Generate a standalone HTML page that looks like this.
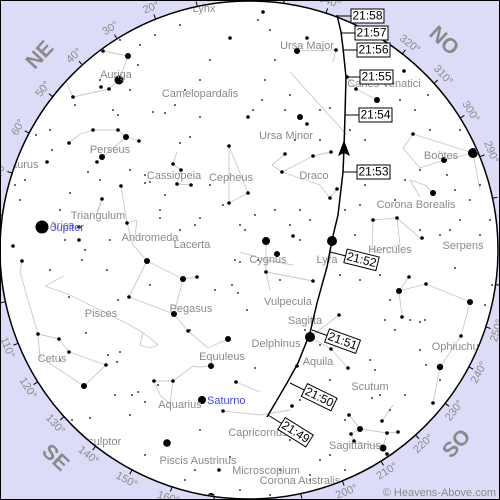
<!DOCTYPE html>
<html><head><meta charset="utf-8"><style>
html,body{margin:0;padding:0;background:#fff}
svg{display:block}
text{font-family:"Liberation Sans",sans-serif}
</style></head><body>
<svg id="chart" width="500" height="500" viewBox="0 0 500 500" xmlns="http://www.w3.org/2000/svg">
<defs><clipPath id="sky"><circle cx="249" cy="250" r="248"/></clipPath></defs>
<rect x="0" y="0" width="500" height="500" fill="#dcdcf8"/>
<circle cx="249" cy="250" r="249" fill="#fff" stroke="#000" stroke-width="1.5"/>
<g id="azimuth"></g>
<g clip-path="url(#sky)">
<g id="clines" stroke="#c8c8c8" stroke-width="0.9" fill="none"></g>
<g id="stars" fill="#000"></g>
<g id="labels" fill="#8a8a8a" font-size="11"></g>
</g>
<g id="track"></g>
<text x="496" y="496" text-anchor="end" font-size="11" fill="#8a8a8a">© Heavens-Above.com</text>
<rect x="0.5" y="0.5" width="499" height="499" fill="none" stroke="#000" stroke-width="1"/>
</svg>
<script>
const NS="http://www.w3.org/2000/svg";
const CX=249, CY=250, R=249, ROT=-2;
const azTicks=[10,20,30,40,50,60,70,80,100,110,120,130,140,150,160,170,190,200,210,220,230,240,250,260,280,290,300,310,320,330,340,350];
const azLabels=[20,30,40,50,60,70,110,120,130,140,150,160,200,210,220,230,240,250,290,300,310,320,340];
const compassNames=["NE","SE","SO","NO"];
const compassAz=[45,135,225,315];
const bigX=[42,473,332,310,119,266,202,167,211,440,383,128,297,377,300,126,102,147,183,174,228,211,84,399,470,360,277,444,433];
const bigY=[227,153,241,337,80,241,400,443,497,367,448,56,51,100,117,137,157,261,279,314,339,366,386,291,302,429,254,160,193];
const bigR=[6.5,5,5,5,4.5,4,4,3.8,4,3.2,3.5,3,3,3,3,3,3,3,3,3,3,3,3,3,3,3,3,3,3];
const midX=[103,101,109,73,93,118,139,69,97,47,173,181,177,191,121,229,248,248,229,102,127,79,79,13,230,263,307,336,347,356,404,307,331,313,285,282,330,337,413,397,373,422,293,22,197,129,236,106,69,59,38,223,188,173,154,266,313,339,331,348,297,409,426,402,461,433,349,387,398,382,387,351,354,292,219];
const midY=[51,87,89,97,130,130,141,143,162,162,164,170,184,185,186,146,117,193,203,199,223,227,240,246,38,12,38,50,77,89,71,124,152,156,154,172,198,189,134,218,220,238,236,261,277,297,382,365,352,339,334,411,331,381,381,272,281,315,349,368,366,277,284,317,336,403,415,433,432,421,454,434,441,406,470];
const tinyX=[180,155,140,120,210,200,185,138,100,130,75,113,118,153,165,175,200,190,180,36,50,52,15,25,70,88,100,130,145,150,165,210,223,240,200,195,180,160,145,60,20,65,85,107,110,258,270,275,265,262,253,290,320,330,295,285,320,350,365,384,400,415,428,430,460,455,480,470,447,420,460,450,490,480,395,405,420,440,365,360,345,300,290,310,275,255,245,50,82,118,69,86,117,120,108,115,132,138,145,158,130,145,125,185,195,240,230,200,190,215,232,238,235,247,150,72,90,255,280,340,360,375,380,390,385,395,425,420,420,426,440,405,480,485,410,370,305,320,330,375,380,390,345,330,345,310,320,300,290,280,310,270,216,240,160,355,372,60,25,480,455,492,300,258];
const tinyY=[25,35,45,40,60,80,90,65,80,90,105,110,115,112,113,105,117,137,143,135,130,150,185,180,193,172,180,170,175,182,195,185,205,225,218,225,230,210,183,210,200,240,250,270,240,20,30,60,80,100,110,95,110,108,140,110,140,130,140,112,100,110,95,130,130,190,185,200,175,230,220,230,220,235,200,180,170,235,185,205,210,210,225,220,210,215,230,270,260,300,297,333,362,352,355,395,395,392,402,385,415,455,475,480,470,490,457,430,330,290,285,293,260,310,285,420,418,368,280,275,280,270,275,300,320,330,320,322,350,365,380,395,400,305,320,360,330,345,380,370,395,410,420,455,470,475,460,400,440,470,480,495,500,262,218,235,398,360,62,90,268,285,240,260,268,30];
const segX1=[103,128,119,109,73,297,336,336,347,356,290,413,473,444,420,403,473,229,248,229,177,173,181,177,69,80,93,118,126,126,121,127,137,127,133,147,183,174,129,183,174,188,208,45,45,70,130,143,150,158,150,140,22,20,38,59,69,106,84,40,154,173,193,198,154,160,173,223,260,236,310,310,331,313,266,266,240,266,332,373,397,400,372,397,433,425,410,409,399,399,426,470,461,440,349,360,387,360,351,354,387,383,382,282,313,282,272,282,320,330,97,102];
const segY1=[51,56,80,89,97,51,50,50,77,89,72,134,153,160,168,148,153,146,193,203,152,164,170,184,143,134,130,130,137,137,186,223,220,223,245,261,279,314,297,279,314,331,348,286,286,295,325,333,338,345,348,345,261,272,334,339,352,365,386,357,381,381,366,367,381,395,381,411,415,382,337,337,349,281,241,272,252,260,241,220,218,245,252,218,193,185,180,277,291,291,284,302,336,367,415,429,433,429,434,441,433,448,421,172,156,172,165,172,185,198,212,199];
const segX2=[128,119,109,73,66,336,336,333,356,377,347,473,444,420,403,413,480,248,229,229,173,181,177,191,80,93,118,126,139,102,127,137,135,133,147,183,197,129,147,174,188,208,228,64,70,130,143,150,158,150,140,143,20,38,59,69,106,84,40,38,173,193,198,211,160,170,170,260,290,260,339,331,348,266,266,270,266,293,330,397,400,372,373,420,425,410,420,399,402,426,470,461,440,433,360,387,398,351,354,383,383,387,393,313,331,272,285,320,330,337,102,97];
const segY2=[56,80,89,97,82,50,50,62,89,100,135,153,160,168,148,134,190,193,203,146,164,170,184,185,134,130,130,137,141,157,223,220,236,245,261,279,277,297,261,314,331,348,339,276,295,325,333,338,345,348,345,333,272,334,339,352,365,386,357,334,381,366,367,366,395,404,404,415,410,392,315,349,368,272,272,290,260,265,260,218,245,252,220,238,185,180,197,291,317,284,302,336,367,403,429,433,432,434,441,448,448,454,405,156,152,165,154,185,198,189,199,215];
const labelText=["Lynx","Auriga","Camelopardalis","Perseus","Ursa Major","Canes Venatici","Ursa Minor","Cassiopeia","Cepheus","Draco","Boötes","Corona Borealis","Hercules","Serpens","Triangulum","Aries","Andromeda","Lacerta","Cygnus","Lyra","Taurus","Pisces","Pegasus","Vulpecula","Sagitta","Delphinus","Equuleus","Aquila","Ophiuchus","Cetus","Scutum","Aquarius","Capricornus","Sculptor","Piscis Austrinus","Microscopium","Sagittarius","Corona Australis"];
const labelX=[204,116,200,110,307,384,286,174,231,314,441,416,390,463,98,62,150,192,268,327,22,101,191,288,305,276,222,318,458,52,370,180,258,101,198,266,355,300];
const labelY=[9,75,94,150,46,84,136,176,178,176,156,205,250,246,216,226,238,245,260,260,165,314,309,302,321,344,357,362,347,359,387,405,433,442,461,471,446,481];
const planetNames=["Jupiter","Saturno"];
const planetX=[51,207];
const planetY=[231,404];
const timeLabels=["21:58","21:57","21:56","21:55","21:54","21:53","21:52","21:51","21:50","21:49"];
const timeTrackX=[337,341,343,346,345,343,330,312,290,268];
const timeTrackY=[16,33,50,77,115,172,252,330,383,415];
const trackX=[337,341,343,346,345,344,343,338,332,327,317,310,298,287,267];
const trackY=[15,32,48,77,115,148,172,215,240,267,303,333,363,383,417];

function el(tag,attrs,parent){const e=document.createElementNS(NS,tag);for(const k in attrs)e.setAttribute(k,attrs[k]);parent.appendChild(e);return e;}
function azPos(a,r){const t=(ROT-a)*Math.PI/180;return [CX+r*Math.sin(t),CY-r*Math.cos(t),ROT-a];}
function norm(r){while(r<-90)r+=180;while(r>90)r-=180;return r;}

const azg=document.getElementById('azimuth');
azTicks.forEach(a=>{const p1=azPos(a,R),p2=azPos(a,R+5);
 const l=el('line',{x1:p1[0],y1:p1[1],x2:p2[0],y2:p2[1],stroke:'#000','stroke-width':1},azg);
 
 });
azLabels.forEach(a=>{const p=azPos(a,R+12);const rot=norm(p[2]);
 const t=el('text',{x:p[0],y:p[1],'font-size':11,fill:'#8a8a8a','text-anchor':'middle','dominant-baseline':'middle',transform:`rotate(${rot} ${p[0]} ${p[1]})`},azg);
 t.textContent=a+'°';
 
 });
compassNames.forEach((n,i)=>{const p=azPos(compassAz[i],R+36);
 const rot=norm(p[2]);
 const t=el('text',{x:p[0],y:p[1],'font-size':21,'font-weight':'bold',fill:'#8a8a8a','text-anchor':'middle','dominant-baseline':'middle',transform:`rotate(${rot} ${p[0]} ${p[1]})`},azg);
 t.textContent=n;
 
 });

const cg=document.getElementById('clines');
segX1.forEach((x,i)=>{const l=el('line',{x1:x,y1:segY1[i],x2:segX2[i],y2:segY2[i]},cg);
 
 });

const sg=document.getElementById('stars');
tinyX.forEach((x,i)=>{const c=el('circle',{cx:x,cy:tinyY[i],r:0.9},sg);
 
 });
midX.forEach((x,i)=>{const c=el('circle',{cx:x,cy:midY[i],r:1.8},sg);
 
 });
bigX.forEach((x,i)=>{const c=el('circle',{cx:x,cy:bigY[i],r:bigR[i]},sg);
 
 });

const lg=document.getElementById('labels');
labelText.forEach((s,i)=>{const t=el('text',{x:labelX[i],y:labelY[i],'text-anchor':'middle','dominant-baseline':'middle'},lg);
 t.textContent=s;
 
 });
planetNames.forEach((s,i)=>{const t=el('text',{x:planetX[i],y:planetY[i],fill:'#4444ff','font-size':11},lg);
 t.textContent=s;
 
 });

const tg=document.getElementById('track');
let d='M'+trackX[0]+' '+trackY[0];
for(let i=1;i<trackX.length;i++)d+=' L'+trackX[i]+' '+trackY[i];
const path=el('path',{d:d,fill:'none',stroke:'#000','stroke-width':1.5},tg);


const arr=el('path',{d:'M344 140 L338 156 L344 153 L350 156 Z',fill:'#000'},tg);


timeLabels.forEach((s,i)=>{
 const tx=timeTrackX[i],ty=timeTrackY[i];
 const ang=i<6?0:(i-5)*6+8;
 const a=ang*Math.PI/180;
 const L=i<6?14:16;
 const ex=tx+L*Math.cos(a),ey=ty+L*Math.sin(a);
 const g=el('g',{transform:`translate(${ex} ${ey}) rotate(${ang})`},tg);
 
 
 el('line',{x1:-L,y1:0,x2:0,y2:0,stroke:'#000','stroke-width':1},g);
 el('rect',{x:0,y:-7,width:33,height:14,fill:'#fff',stroke:'#000','stroke-width':1},g);
 const t=el('text',{x:16.5,y:0.5,'text-anchor':'middle','dominant-baseline':'middle','font-size':12,fill:'#000'},g);
 t.textContent=s;
});
</script>
</body></html>
